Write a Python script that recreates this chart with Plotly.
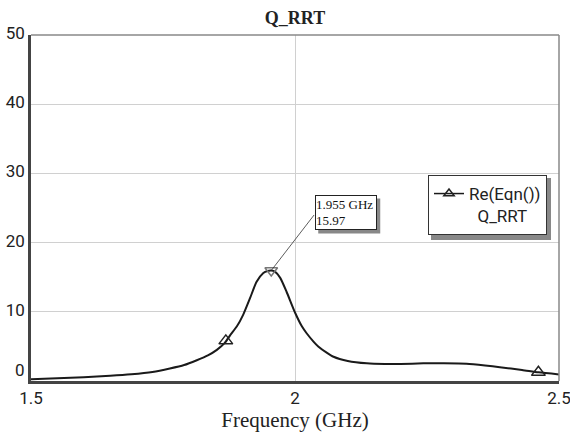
import plotly.graph_objects as go

# ---- data ----
freq_ghz = [1.5, 1.55, 1.6, 1.65, 1.69, 1.73, 1.763, 1.79, 1.814, 1.835, 1.852, 1.867,
            1.877, 1.89, 1.902, 1.915, 1.927, 1.94, 1.948, 1.955, 1.962, 1.972, 1.984,
            2.0, 2.013, 2.022, 2.035, 2.044, 2.06, 2.073, 2.1, 2.136, 2.17, 2.2, 2.243,
            2.28, 2.325, 2.36, 2.388, 2.43, 2.461, 2.5]
q_rrt = [0.25, 0.38, 0.55, 0.75, 0.97, 1.3, 1.8, 2.3, 3.0, 3.7, 4.5, 5.5,
         6.6, 7.9, 9.6, 12.0, 14.3, 15.6, 15.9, 15.97, 15.8, 14.9, 12.9,
         9.9, 7.9, 6.9, 5.7, 5.0, 4.1, 3.5, 2.9, 2.55, 2.45, 2.45, 2.55,
         2.55, 2.5, 2.25, 2.0, 1.6, 1.25, 0.95]

symbol_freq = [1.869, 2.461]
symbol_q = [5.8, 1.25]

peak_freq = [1.955]
peak_q = [15.97]
peak_label = "1.955 GHz<br>15.97"

x_ticks = [1.5, 2, 2.5]
x_ticktext = ["1.5", "2", "2.5"]
y_ticks = [10, 20, 30, 40, 50]
y_ticktext = ["10", "20", "30", "40", "50"]
y_zero_label = "0"

series_name = "Re(Eqn())<br>&nbsp;&nbsp;Q_RRT"
title_text = "<b>Q_RRT</b>"
x_title = "Frequency (GHz)"

SANS = "Roboto"
SERIF = "Liberation Serif"

fig = go.Figure()

fig.add_trace(go.Scatter(x=freq_ghz, y=q_rrt, mode="lines", line_shape="spline",
                         line=dict(color="#1a1a1a", width=2, smoothing=0.6),
                         showlegend=False, hoverinfo="skip"))
fig.add_trace(go.Scatter(x=symbol_freq, y=symbol_q, mode="markers",
                         marker=dict(symbol="triangle-up-open", size=12, color="#222",
                                     line=dict(width=1.5, color="#222")),
                         showlegend=False))
fig.add_trace(go.Scatter(x=peak_freq, y=peak_q, mode="markers",
                         marker=dict(symbol="triangle-down-open", size=11, color="#777",
                                     line=dict(width=1.5, color="#777")),
                         showlegend=False))
# legend entry
fig.add_trace(go.Scatter(x=[None], y=[None], mode="lines+markers", name=series_name,
                         line=dict(color="#1a1a1a", width=1.5),
                         marker=dict(symbol="triangle-up-open", size=9, color="#222",
                                     line=dict(width=1.5, color="#222"))))

# callout shadow (pixel-sized shape anchored at the peak)
fig.add_shape(type="rect", xref="x", yref="y", xsizemode="pixel", ysizemode="pixel",
              xanchor=peak_freq[0], yanchor=peak_q[0],
              x0=44 + 3, x1=44 + 3 + 62, y0=75 - 3, y1=75 - 3 - 35,
              fillcolor="#888", line=dict(width=0), layer="above")
fig.add_annotation(x=peak_freq[0], y=peak_q[0], xref="x", yref="y", text=peak_label,
                   showarrow=False, xanchor="left", yanchor="top", align="left",
                   xshift=44, yshift=75, width=60, height=33,
                   font=dict(family=SERIF, size=13, color="#111"),
                   bgcolor="white", bordercolor="#222", borderwidth=1, borderpad=0)
fig.add_annotation(x=peak_freq[0], y=peak_q[0], xref="x", yref="y", text="",
                   showarrow=True, arrowhead=0, arrowwidth=0.8, arrowcolor="#333",
                   ax=44, ay=-57, standoff=0, startstandoff=0)

# "0" tick label placed above the axis line
fig.add_annotation(x=0, y=0, xref="paper", yref="y", text=y_zero_label, showarrow=False,
                   xanchor="right", yanchor="middle", xshift=-4, yshift=11,
                   font=dict(family=SANS, size=17, color="#222"))

# top/right frame and legend shadow
fig.add_shape(type="line", xref="paper", yref="paper", x0=0, x1=1, y0=1, y1=1,
              line=dict(color="#888", width=1.5))
fig.add_shape(type="line", xref="paper", yref="paper", x0=1, x1=1, y0=0, y1=1,
              line=dict(color="#888", width=1.5))
fig.add_shape(type="rect", xref="paper", yref="paper",
              x0=(431 - 31) / 528, x1=(551 - 31) / 528,
              y0=(381 - 240) / 346, y1=(381 - 178) / 346,
              fillcolor="#888", line=dict(width=0), layer="above")

fig.update_layout(
    width=570, height=432,
    margin=dict(l=31, r=11, t=35, b=51),
    paper_bgcolor="white", plot_bgcolor="white",
    title=dict(text=title_text, x=(295) / 570, xref="container", xanchor="center",
               y=1 - 18 / 432, yref="container", yanchor="middle",
               font=dict(family=SERIF, size=18, color="#222")),
    showlegend=True,
    legend=dict(x=(428 - 31) / 528, y=(381 - 175) / 346, xanchor="left", yanchor="top",
                bgcolor="white", bordercolor="#333", borderwidth=1,
                font=dict(family=SANS, size=17, color="#222"),
                valign="top", itemwidth=30, tracegroupgap=0),
    xaxis=dict(range=[1.5, 2.5], tickvals=x_ticks, ticktext=x_ticktext, automargin=False,
               showgrid=True, gridcolor="#d0d0d0", gridwidth=1, ticklabeloverflow="allow",
               showline=True, linecolor="#444", linewidth=2.5, zeroline=False,
               ticks="", tickfont=dict(family=SANS, size=17, color="#222"),
               title=dict(text=x_title, font=dict(family=SERIF, size=21, color="#222"),
                          standoff=4)),
    yaxis=dict(range=[0, 50], tickvals=y_ticks, ticktext=y_ticktext, automargin=False,
               showgrid=True, gridcolor="#d0d0d0", gridwidth=1,
               showline=True, linecolor="#444", linewidth=2.5, zeroline=False,
               ticks="", tickfont=dict(family=SANS, size=17, color="#222"),
               ticklabelshift=-2),
)

fig.write_html("out.html")
